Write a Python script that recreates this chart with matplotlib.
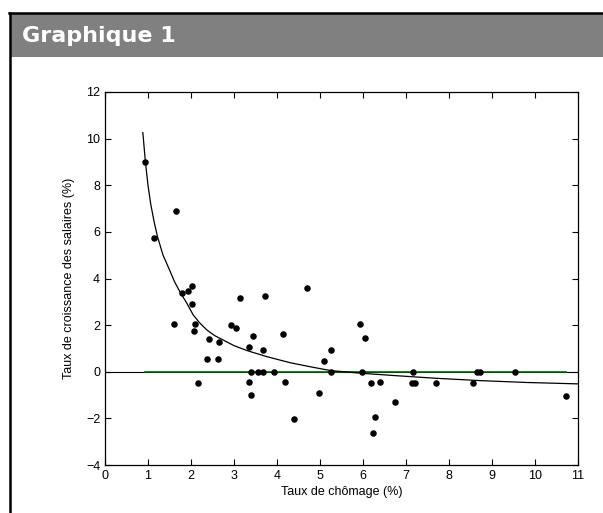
import matplotlib
matplotlib.use("Agg")
import matplotlib.pyplot as plt
from matplotlib.lines import Line2D
from matplotlib.patches import Rectangle

# unemployment rate (%) and wage growth (%)
chomage = [0.93, 1.64, 1.13, 1.79, 1.92, 2.03, 2.02, 3.15, 3.72, 4.69,
           1.60, 2.10, 2.08, 2.43, 2.64, 2.38, 2.63, 2.17, 2.94, 3.04,
           3.45, 3.34, 3.67, 4.13, 3.40, 3.55, 3.67, 3.93, 3.34, 3.40,
           4.19, 4.39, 4.97, 5.10, 5.25, 5.25, 5.93, 6.04, 5.98, 6.19,
           6.40, 6.75, 6.29, 6.23, 7.16, 7.14, 7.22, 7.69, 8.55, 8.66,
           8.71, 9.54, 10.71]
salaires = [9.0, 6.9, 5.74, 3.37, 3.45, 3.68, 2.91, 3.17, 3.25, 3.58,
            2.04, 2.04, 1.75, 1.42, 1.28, 0.54, 0.54, -0.49, 2.0, 1.89,
            1.52, 1.05, 0.95, 1.62, 0.0, 0.0, 0.0, 0.0, -0.45, -1.01,
            -0.45, -2.04, -0.92, 0.48, 0.95, 0.0, 2.04, 1.46, 0.0, -0.49,
            -0.45, -1.30, -1.95, -2.61, 0.0, -0.49, -0.49, -0.49, -0.49, 0.0,
            0.0, 0.0, -1.05]

# fitted curve, points
courbe_x = [0.88, 0.94, 1.00, 1.06, 1.14, 1.22, 1.35, 1.50, 1.62, 1.76,
            1.90, 2.05, 2.20, 2.37, 2.55, 2.75, 3.00, 3.30, 3.76, 4.30,
            4.84, 5.25, 6.00, 6.78, 7.70, 8.72, 9.80, 11.0]
courbe_y = [10.26, 9.0, 8.0, 7.23, 6.45, 5.8, 5.0, 4.37, 3.85, 3.37,
            2.95, 2.44, 2.10, 1.79, 1.55, 1.36, 1.12, 0.91, 0.65, 0.39,
            0.19, 0.05, -0.07, -0.17, -0.28, -0.38, -0.46, -0.52]

# green reference line at zero, spanning the data
ligne_x = [0.93, 10.71]
ligne_y = [0.0, 0.0]

xticks = list(range(0, 12))
yticks = list(range(-4, 13, 2))

W, H = 603, 513
fig = plt.figure(figsize=(W / 100, H / 100), dpi=100)

# frame and grey header
fig.add_artist(Line2D([10 / W, 10 / W], [0, 1 - 13 / H], color="black", lw=1.8))
fig.add_artist(Line2D([9 / W, 1], [1 - 13 / H, 1 - 13 / H], color="black", lw=1.8))
fig.add_artist(Rectangle((11 / W, 1 - 57 / H), 1 - 11 / W, 43 / H,
                         facecolor="#808080", edgecolor="none"))
fig.text(22 / W, 1 - 36 / H, "Graphique 1", color="white", fontsize=16,
         fontweight="bold", family="DejaVu Sans", va="center", ha="left")

ax = fig.add_axes([105 / W, 1 - 465 / H, 473 / W, 373 / H])
ax.axhline(0, color="black", lw=0.8, zorder=1)
ax.plot(ligne_x, ligne_y, color="#006400", lw=1.2, zorder=2)
ax.plot(courbe_x, courbe_y, color="black", lw=0.9, zorder=3)
ax.scatter(chomage, salaires, s=22, color="black", zorder=4, linewidths=0)

ax.set_xlim(0, 11)
ax.set_ylim(-4, 12)
ax.set_xticks(xticks)
ax.set_yticks(yticks)
ax.tick_params(direction="in", top=True, right=True, length=4, width=0.8,
               labelsize=9)
for lab in ax.get_xticklabels() + ax.get_yticklabels():
    lab.set_family("Liberation Sans")
for sp in ax.spines.values():
    sp.set_linewidth(0.9)
ax.set_xlabel("Taux de chômage (%)", fontsize=9, family="Liberation Sans",
              labelpad=3)
ax.set_ylabel("Taux de croissance des salaires (%)", fontsize=9,
              family="Liberation Sans", labelpad=8)

fig.savefig("out.png", dpi=100)
